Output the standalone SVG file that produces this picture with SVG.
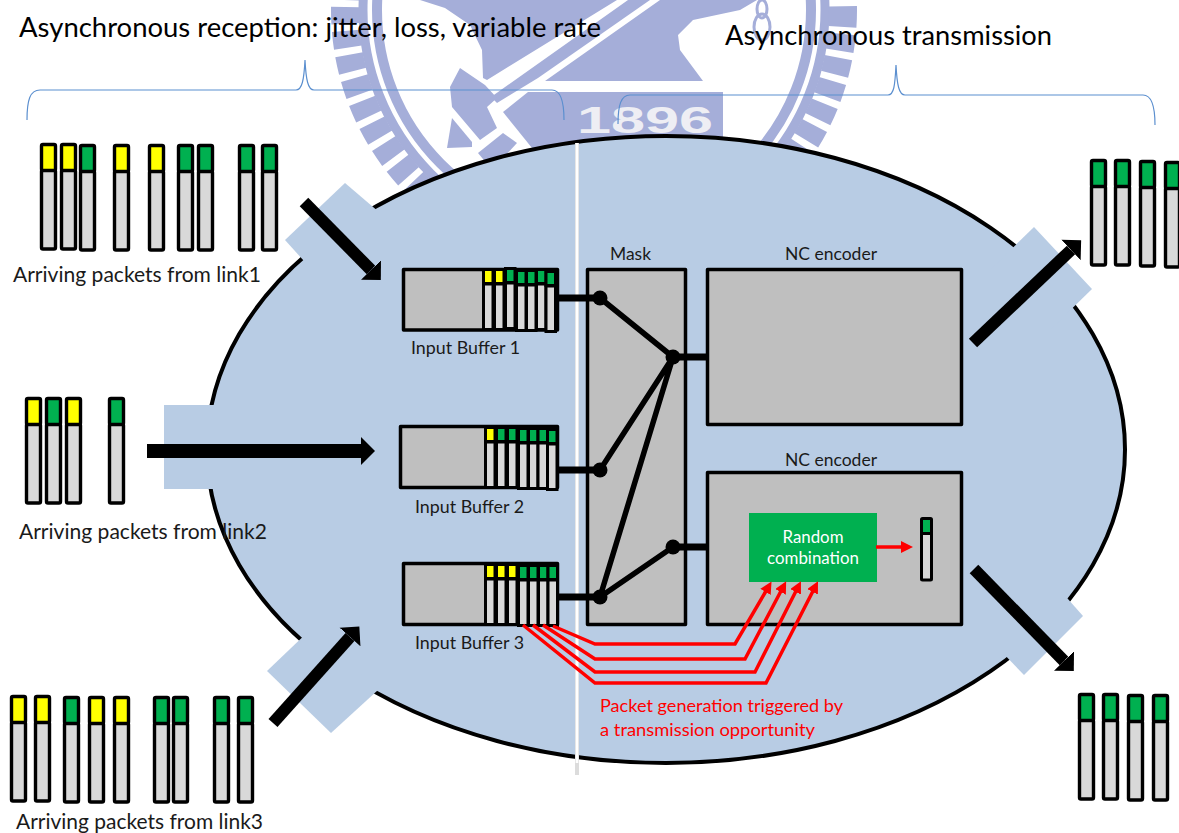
<svg xmlns="http://www.w3.org/2000/svg" xmlns:xlink="http://www.w3.org/1999/xlink" width="1179" height="833" viewBox="0 0 1179 833">
<style>
text{font-family:"Lato","Open Sans","Liberation Sans",sans-serif;fill:#1a1a1a}
.t1{font-size:27px;fill:#000}
.t2{font-size:21px}
.t3{font-size:18px}
.t4{font-size:17px;fill:#fff}
.red{font-size:18px;fill:#f00}
.wm{fill:#a5aed9}
.wl{fill:none;stroke:#a5aed9}
.port{fill:#b8cce4}
.box{fill:#bfbfbf;stroke:#000;stroke-width:3.5;stroke-linejoin:round}
.k{stroke:#000;stroke-width:3.4;stroke-linejoin:round}
.k2{stroke:#000;stroke-width:3;stroke-linejoin:miter}
.g{fill:#d9d9d9}.y{fill:#ff0}.n{fill:#00b050}
.w{stroke:#000;stroke-width:5.5;fill:none}
.s{stroke:#000;stroke-width:7;fill:none}
.fat{stroke:#000;fill:none;marker-end:url(#ah)}
.r{stroke:#f00;stroke-width:3.5;fill:none;stroke-linejoin:miter;marker-end:url(#rh)}
.brace{fill:none;stroke:#5b8fcf;stroke-width:1.2}
</style>
<defs>
<marker id="ah" markerUnits="userSpaceOnUse" markerWidth="15" markerHeight="30" refX="0" refY="14" orient="auto" viewBox="0 0 15 28"><path d="M0,0L14,14L0,28z" fill="#000"/></marker>
<marker id="rh" markerUnits="userSpaceOnUse" markerWidth="12" markerHeight="12" refX="1" refY="6" orient="auto" viewBox="0 0 12 12"><path d="M0,0L12,6L0,12z" fill="#f00"/></marker>
<g id="ly"><rect class="g k" x="1.5" y="27" width="14" height="79" rx="1.5"/><rect class="y k" x="1.5" y="1.5" width="14" height="26" rx="1.5"/></g>
<g id="ln"><rect class="g k" x="1.5" y="27" width="14" height="79" rx="1.5"/><rect class="n k" x="1.5" y="1.5" width="14" height="26" rx="1.5"/></g>
<g id="sy"><rect class="g k2" x="0.5" y="15" width="9.5" height="45.5"/><rect class="y k2" x="0.5" y="0.5" width="9.5" height="14"/></g>
<g id="sn"><rect class="g k2" x="0.5" y="15" width="9.5" height="45.5"/><rect class="n k2" x="0.5" y="0.5" width="9.5" height="14"/></g>
</defs>
<rect width="1179" height="833" fill="#fff"/>
<g id="watermark">
<circle class="wl" cx="594" cy="10" r="217" stroke-width="10"/>
<circle class="wl" cx="594" cy="10" r="231" stroke-width="9"/>
<circle class="wl" cx="594" cy="10" r="249" stroke-width="28" stroke-dasharray="17 7"/>
<polygon class="wm" points="420,0 617,0 487,80 483,78 482,50 470,25 445,8"/>
<polygon class="wm" points="628,0 650,0 538,78 497,103 491,97"/>
<polygon class="wm" points="660,0 545,81 703,81 680,50 678,35 693,20 740,10 757,0"/>
<polygon class="wm" points="460,68 450,87 452,107 480,140 497,128 487,107 497,98 485,85"/>
<polygon class="wm" points="447,148 452,118 472,142 472,147"/>
<polygon class="wm" points="503,112 528,92 723,92 723,145 532,148"/>
<polygon class="wm" points="478,153 503,133 517,143 492,170"/>
<ellipse class="wl" cx="762" cy="9" rx="5" ry="9" stroke-width="3"/>
<ellipse class="wl" cx="762" cy="27" rx="8" ry="13" stroke-width="3"/>
<text x="577" y="133" font-size="36" font-weight="700" textLength="136" lengthAdjust="spacingAndGlyphs" style="font-family:'Liberation Sans',sans-serif;fill:#eeeef4">1896</text>
</g>
<g id="body">
<ellipse cx="666" cy="449.5" rx="459" ry="313.5" fill="#b8cce4" stroke="#000" stroke-width="4"/>
<polygon class="port" points="345,183 285,240 332,292 400,230"/>
<rect class="port" x="164" y="405" width="100" height="84"/>
<polygon class="port" points="267,671 331,733 378,690 312,628"/>
<polygon class="port" points="1034,227 1092,289 1050,330 990,270"/>
<polygon class="port" points="1083,616 1024,675 1000,650 1060,590"/>
</g>
<g id="divider">
<line x1="577" y1="143" x2="577" y2="775" stroke="#dcdcdc" stroke-width="4"/>
<line x1="577" y1="143" x2="577" y2="763" stroke="#fff" stroke-width="2.6"/>
</g>
<g id="braces">
<path class="brace" d="M27,120C27,100 30,90 40,90L296,90C302,90 304,80 305,60C306,80 308,90 314,90L552,90C560,90 564,100 564,120"/>
<path class="brace" d="M618,124C618,105 621,95 630,95L888,95C894,95 895,85 896,65C897,85 899,95 905,95L1143,95C1151,95 1155,105 1155,125"/>
</g>
<g id="titles">
<text class="t1" x="19" y="37" textLength="582" lengthAdjust="spacingAndGlyphs">Asynchronous reception: jitter, loss, variable rate</text>
<text class="t1" x="725" y="45" textLength="327" lengthAdjust="spacingAndGlyphs">Asynchronous transmission</text>
</g>
<g id="link1">
<use href="#ly" x="40" y="143"/><use href="#ly" x="60" y="143"/><use href="#ln" x="79" y="144"/><use href="#ly" x="113" y="144"/><use href="#ly" x="148" y="144"/><use href="#ln" x="177" y="144"/><use href="#ln" x="197" y="144"/><use href="#ln" x="238" y="144"/><use href="#ln" x="261" y="144"/>
<text class="t2" x="13" y="282" textLength="248" lengthAdjust="spacingAndGlyphs">Arriving packets from link1</text>
</g>
<g id="link2">
<use href="#ly" x="25" y="397"/><use href="#ln" x="45" y="397"/><use href="#ly" x="65" y="397"/><use href="#ln" x="108" y="397"/>
<text class="t2" x="19" y="539" textLength="248" lengthAdjust="spacingAndGlyphs">Arriving packets from link2</text>
</g>
<g id="link3">
<use href="#ly" x="10" y="695"/><use href="#ly" x="34" y="695"/><use href="#ln" x="63" y="696"/><use href="#ly" x="88" y="696"/><use href="#ly" x="113" y="696"/><use href="#ln" x="153" y="696"/><use href="#ln" x="172" y="696"/><use href="#ln" x="213" y="696"/><use href="#ln" x="237" y="696"/>
<text class="t2" x="16" y="829" textLength="247" lengthAdjust="spacingAndGlyphs">Arriving packets from link3</text>
</g>
<g id="out1">
<use href="#ln" x="1090" y="159"/><use href="#ln" x="1114" y="159"/><use href="#ln" x="1139" y="160"/><use href="#ln" x="1164" y="161"/>
</g>
<g id="out2">
<use href="#ln" x="1078" y="693"/><use href="#ln" x="1102" y="693"/><use href="#ln" x="1127" y="694"/><use href="#ln" x="1152" y="694"/>
</g>
<g id="buffer1">
<rect class="box" x="403.5" y="269.5" width="154" height="60.5"/>
<use href="#sy" x="483" y="269"/><use href="#sy" x="494" y="269"/><use href="#sn" x="505" y="268"/><use href="#sn" x="516" y="270"/><use href="#sn" x="526" y="270"/><use href="#sn" x="536" y="269"/><use href="#sn" x="545.5" y="271"/>
<text class="t3" x="411" y="354" textLength="109" lengthAdjust="spacingAndGlyphs">Input Buffer 1</text>
</g>
<g id="buffer2">
<rect class="box" x="400.5" y="426.5" width="157" height="61"/>
<use href="#sy" x="485" y="427"/><use href="#sn" x="496" y="427"/><use href="#sn" x="507" y="427"/><use href="#sn" x="518" y="428"/><use href="#sn" x="528" y="428"/><use href="#sn" x="537.5" y="428"/><use href="#sn" x="547" y="429"/>
<text class="t3" x="415" y="513" textLength="109" lengthAdjust="spacingAndGlyphs">Input Buffer 2</text>
</g>
<g id="buffer3">
<rect class="box" x="403.5" y="563.5" width="154" height="61"/>
<use href="#sy" x="485" y="564"/><use href="#sy" x="496" y="564"/><use href="#sy" x="507" y="564"/><use href="#sn" x="518" y="565"/><use href="#sn" x="528" y="565"/><use href="#sn" x="538" y="565"/><use href="#sn" x="547.5" y="565"/>
<text class="t3" x="415" y="649" textLength="109" lengthAdjust="spacingAndGlyphs">Input Buffer 3</text>
</g>
<g id="mask">
<rect class="box" x="587.5" y="269.5" width="98" height="355"/>
<text class="t3" x="610" y="260" textLength="41" lengthAdjust="spacingAndGlyphs">Mask</text>
</g>
<g id="encoder1">
<rect class="box" x="707.5" y="269.5" width="254" height="155"/>
<text class="t3" x="785" y="260" textLength="92" lengthAdjust="spacingAndGlyphs">NC encoder</text>
</g>
<g id="encoder2">
<rect class="box" x="707.5" y="472.5" width="254" height="152"/>
<text class="t3" x="785" y="466" textLength="92" lengthAdjust="spacingAndGlyphs">NC encoder</text>
</g>
<g id="combiner">
<rect class="n" x="749" y="513" width="128" height="69"/>
<text class="t4" x="813" y="543" text-anchor="middle" textLength="61" lengthAdjust="spacingAndGlyphs">Random</text>
<text class="t4" x="813" y="564" text-anchor="middle" textLength="92" lengthAdjust="spacingAndGlyphs">combination</text>
</g>
<g id="result">
<rect class="g k2" x="921.5" y="533" width="10" height="47" rx="1"/>
<rect class="n k2" x="921.5" y="518.5" width="10" height="15" rx="1"/>
</g>
<g id="connectors">
<g id="wiring">
<path class="s" d="M558,298H600M558,470H600M558,597H600M673,357H707M673,547H707"/>
<path class="w" d="M600,298L673,357M600,470L673,357M600,597L673,357M600,597L673,547"/>
<circle cx="600" cy="298" r="7.5"/><circle cx="600" cy="470" r="7.5"/><circle cx="600" cy="597" r="7.5"/><circle cx="673" cy="357" r="7.5"/><circle cx="673" cy="547" r="7.5"/>
</g>
<g id="flows">
<line class="fat" stroke-width="12" x1="304" y1="202" x2="371" y2="270"/>
<line class="fat" stroke-width="14" x1="147" y1="451" x2="361" y2="451"/>
<line class="fat" stroke-width="12" x1="273" y1="723" x2="350" y2="637"/>
<line class="fat" stroke-width="12" x1="973" y1="343" x2="1071" y2="250"/>
<line class="fat" stroke-width="12" x1="974" y1="569" x2="1064" y2="661"/>
</g>
<g id="triggers">
<polyline class="r" points="553,626 595,644 735,644 766,591"/>
<polyline class="r" points="543,625 595,659 745,659 781,591"/>
<polyline class="r" points="533,625 595,672 755,672 796,591"/>
<polyline class="r" points="523,625 595,683 766,683 813,591"/>
<line class="r" x1="876" y1="547" x2="902" y2="547"/>
</g>
</g>
<g id="note">
<text class="red" x="600" y="712" textLength="243" lengthAdjust="spacingAndGlyphs">Packet generation triggered by</text>
<text class="red" x="600" y="736" textLength="215" lengthAdjust="spacingAndGlyphs">a transmission opportunity</text>
</g>
</svg>
